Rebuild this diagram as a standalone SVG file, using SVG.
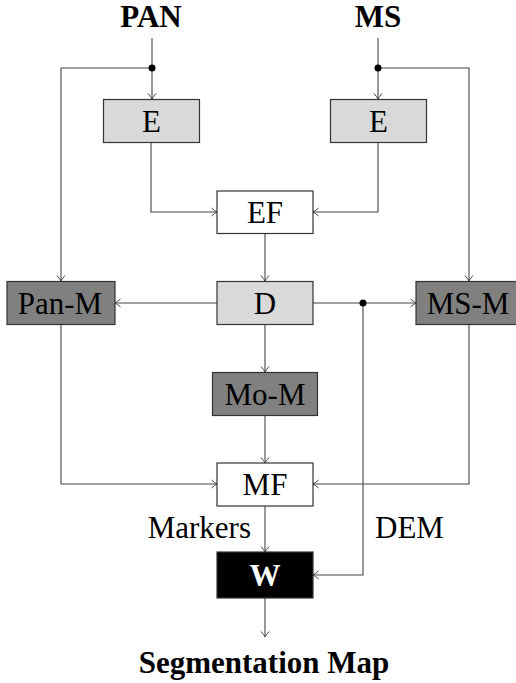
<svg xmlns="http://www.w3.org/2000/svg" width="516" height="683" viewBox="0 0 516 683">
<style>
.box{stroke:#333;stroke-width:1.2}
.light{fill:#d9d9d9}
.dark{fill:#808080}
.white{fill:#fff}
.black{fill:#000}
.lbl{font-family:"Liberation Serif","Times New Roman",serif;font-size:31px;text-anchor:middle;fill:#000}
.bold{font-weight:bold}
.conn{fill:none;stroke:#444;stroke-width:1.1}
</style>
<defs>
<marker id="arr" markerUnits="userSpaceOnUse" markerWidth="12" markerHeight="12" viewBox="-7 -6 8 12" refX="0" refY="0" orient="auto">
<path d="M -5.5 -4 Q -2 -1 0 0 Q -2 1 -5.5 4" fill="none" stroke="#444" stroke-width="1"/>
</marker>
</defs>
<rect width="516" height="683" fill="#fff"/>
<g id="connectors">
<path class="conn" d="M152 38 V99" marker-end="url(#arr)"/>
<path class="conn" d="M152 68 H61 V281" marker-end="url(#arr)"/>
<path class="conn" d="M378 38 V99" marker-end="url(#arr)"/>
<path class="conn" d="M378 68 H469 V281" marker-end="url(#arr)"/>
<path class="conn" d="M151 143 V212 H217" marker-end="url(#arr)"/>
<path class="conn" d="M378 143 V212 H313" marker-end="url(#arr)"/>
<path class="conn" d="M265 233 V281" marker-end="url(#arr)"/>
<path class="conn" d="M217 303 H115" marker-end="url(#arr)"/>
<path class="conn" d="M313 303 H416" marker-end="url(#arr)"/>
<path class="conn" d="M265 324 V372" marker-end="url(#arr)"/>
<path class="conn" d="M265 415 V463" marker-end="url(#arr)"/>
<path class="conn" d="M61 324 V484 H217" marker-end="url(#arr)"/>
<path class="conn" d="M469 324 V484 H313" marker-end="url(#arr)"/>
<path class="conn" d="M265 506 V552" marker-end="url(#arr)"/>
<path class="conn" d="M363 303 V575 H313" marker-end="url(#arr)"/>
<path class="conn" d="M265 598 V637" marker-end="url(#arr)"/>
<circle cx="152" cy="68" r="3.5" fill="#000"/>
<circle cx="378" cy="68" r="3.5" fill="#000"/>
<circle cx="363" cy="303" r="3.5" fill="#000"/>
<text class="lbl" x="251" y="538" text-anchor="end" style="text-anchor:end">Markers</text>
<text class="lbl" x="375" y="538" style="text-anchor:start">DEM</text>
</g>
<g id="PAN"><text class="lbl bold" x="151" y="27">PAN</text></g>
<g id="MS"><text class="lbl bold" x="378" y="27">MS</text></g>
<g id="E1"><rect class="box light" x="103.5" y="99.5" width="96" height="43"/><text class="lbl" x="151.5" y="132">E</text></g>
<g id="E2"><rect class="box light" x="330.5" y="99.5" width="96" height="43"/><text class="lbl" x="378.5" y="132">E</text></g>
<g id="EF"><rect class="box white" x="217" y="191" width="96" height="42.5"/><text class="lbl" x="265" y="223">EF</text></g>
<g id="D"><rect class="box light" x="217" y="281.5" width="96" height="43"/><text class="lbl" x="265" y="314">D</text></g>
<g id="PanM"><rect class="box dark" x="7" y="281.5" width="108" height="43"/><text class="lbl" x="60" y="314">Pan-M</text></g>
<g id="MSM"><rect class="box dark" x="416" y="281.5" width="106" height="43"/><text class="lbl" x="468" y="314">MS-M</text></g>
<g id="MoM"><rect class="box dark" x="212.5" y="372.5" width="105" height="43"/><text class="lbl" x="265" y="405">Mo-M</text></g>
<g id="MF"><rect class="box white" x="217" y="463" width="96" height="43"/><text class="lbl" x="265" y="495">MF</text></g>
<g id="W"><rect class="box black" x="217" y="552" width="96" height="46"/><text class="lbl bold" x="265" y="586" fill="#fff" style="fill:#fff">W</text></g>
<g id="Seg"><text class="lbl bold" x="264" y="673">Segmentation Map</text></g>
</svg>
